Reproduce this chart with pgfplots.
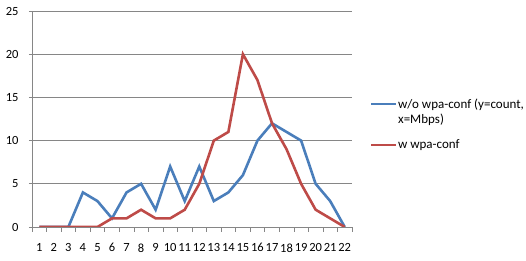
\documentclass[border=0pt]{standalone}
\usepackage{fontspec}
\setmainfont{Carlito}
\usepackage{pgfplots}
\pgfplotsset{compat=1.18}
\definecolor{xblue}{RGB}{74,126,187}
\definecolor{xred}{RGB}{190,75,72}
\definecolor{xgrid}{RGB}{134,134,134}
\begin{document}
\fontsize{13}{15}\selectfont
\begin{tikzpicture}
\begin{axis}[
  at={(0,0)}, anchor=south west,
  scale only axis, width=320pt, height=216pt,
  xmin=0.5, xmax=22.5, ymin=0, ymax=25,
  axis lines*=left,
  axis line style={draw=xgrid, line width=0.8pt, -},
  xtick={1,...,22},
  minor xtick={0.5,1.5,...,22.5},
  ytick={0,5,...,25},
  tick align=outside,
  major x tick style={draw=none},
  minor x tick style={draw=xgrid, line width=0.6pt},
  minor tick length=5pt,
  major tick length=3pt,
  y tick style={draw=xgrid, line width=0.6pt},
  ymajorgrids,
  major grid style={draw=xgrid, line width=0.8pt},
  /pgf/number format/assume math mode=true,
  tick label style={font=\fontsize{12.5}{14}\selectfont},
  xticklabel style={yshift=-9pt, inner xsep=0pt},
  yticklabel style={xshift=-6pt},
  legend cell align=left,
  legend style={draw=none, fill=none, at={(1.056,0.60)}, anchor=north west,
    inner sep=0pt, row sep=13pt, nodes={inner sep=1pt, align=left},
    font=\fontsize{13}{15}\selectfont},
  legend image code/.code={\draw[#1, line width=2pt] (0pt,0pt) -- (25pt,0pt);},
]
\addplot[xblue, line width=2.6pt,
  legend image code/.code={\draw[xblue, line width=2pt] (0pt,7.5pt) -- (25pt,7.5pt);}] coordinates {
(1,0)(2,0)(3,0)(4,4)(5,3)(6,1)(7,4)(8,5)(9,2)(10,7)(11,3)(12,7)(13,3)(14,4)(15,6)(16,10)(17,12)(18,11)(19,10)(20,5)(21,3)(22,0)};
\addlegendentry{w/o wpa-conf (y=count,\\x=Mbps)}
\addplot[xred, line width=2.6pt] coordinates {
(1,0)(2,0)(3,0)(4,0)(5,0)(6,1)(7,1)(8,2)(9,1)(10,1)(11,2)(12,5)(13,10)(14,11)(15,20)(16,17)(17,12)(18,9)(19,5)(20,2)(21,1)(22,0)};
\addlegendentry{w wpa-conf}
\end{axis}
\path[use as bounding box] (-32pt,-34pt) rectangle (494pt,227pt);
\end{tikzpicture}
\end{document}
